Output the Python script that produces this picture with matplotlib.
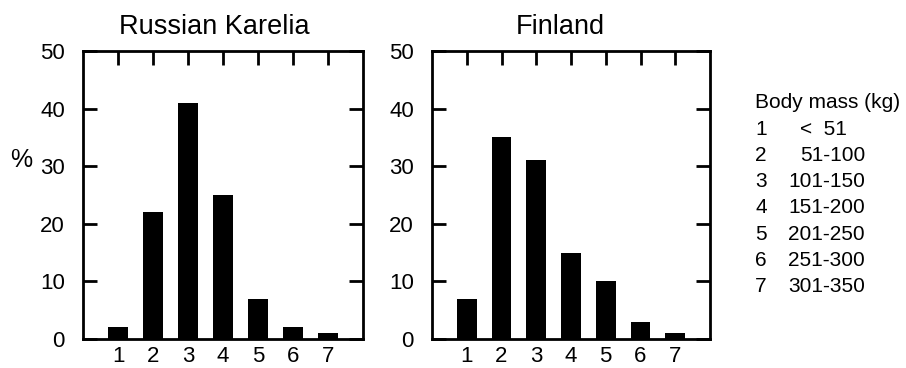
import matplotlib
matplotlib.use("Agg")
import matplotlib.pyplot as plt

# body mass classes and percentages per region
classes = [1, 2, 3, 4, 5, 6, 7]
karelia_pct = [2, 22, 41, 25, 7, 2, 1]
finland_pct = [7, 35, 31, 15, 10, 3, 1]
titles = ["Russian Karelia", "Finland"]
y_ticks = [0, 10, 20, 30, 40, 50]
legend_title = "Body mass (kg)"
range_labels = ["<  51", "51-100", "101-150", "151-200", "201-250", "251-300", "301-350"]

plt.rcParams["font.family"] = ["Liberation Sans", "DejaVu Sans"]

fig = plt.figure(figsize=(9.06, 3.68), dpi=100)
W, H = 906, 368


def add_panel(left_px, width_px):
    return fig.add_axes([left_px / W, (H - 339) / H, width_px / W, 288 / H])


ax1 = add_panel(83, 280)
ax2 = add_panel(432, 278)

for ax, values, title, tx in zip([ax1, ax2], [karelia_pct, finland_pct], titles, [0.47, 0.46]):
    ax.bar(classes, values, width=0.57, color="black")
    ax.set_xlim(0, 8)
    ax.set_ylim(0, 50)
    ax.set_xticks(classes)
    ax.set_yticks(y_ticks)
    ax.tick_params(axis="x", top=True, bottom=False, direction="in", length=10, width=2,
                   labelsize=16, pad=5)
    ax.tick_params(axis="y", left=True, right=True, direction="in", length=10, width=2,
                   labelsize=16, pad=13)
    for sp in ax.spines.values():
        sp.set_linewidth(2)
    ax.set_title(title, fontsize=19.5, pad=12, x=tx)

ax1.text(-0.22, 0.62, "%", transform=ax1.transAxes, fontsize=18, ha="center", va="center")

# legend for body mass classes
fig.text(755 / W, 1 - 103 / H, legend_title, fontsize=15, ha="left", va="center")
for i, (c, lab) in enumerate(zip(classes, range_labels)):
    y = 1 - (129 + i * 26.3) / H
    fig.text(755 / W, y, str(c), fontsize=15, ha="left", va="center")
    if lab.startswith("<"):
        fig.text(800 / W, y, lab, fontsize=15, ha="left", va="center")
    else:
        fig.text(865 / W, y, lab, fontsize=15, ha="right", va="center")

fig.savefig("out.png", dpi=100)
